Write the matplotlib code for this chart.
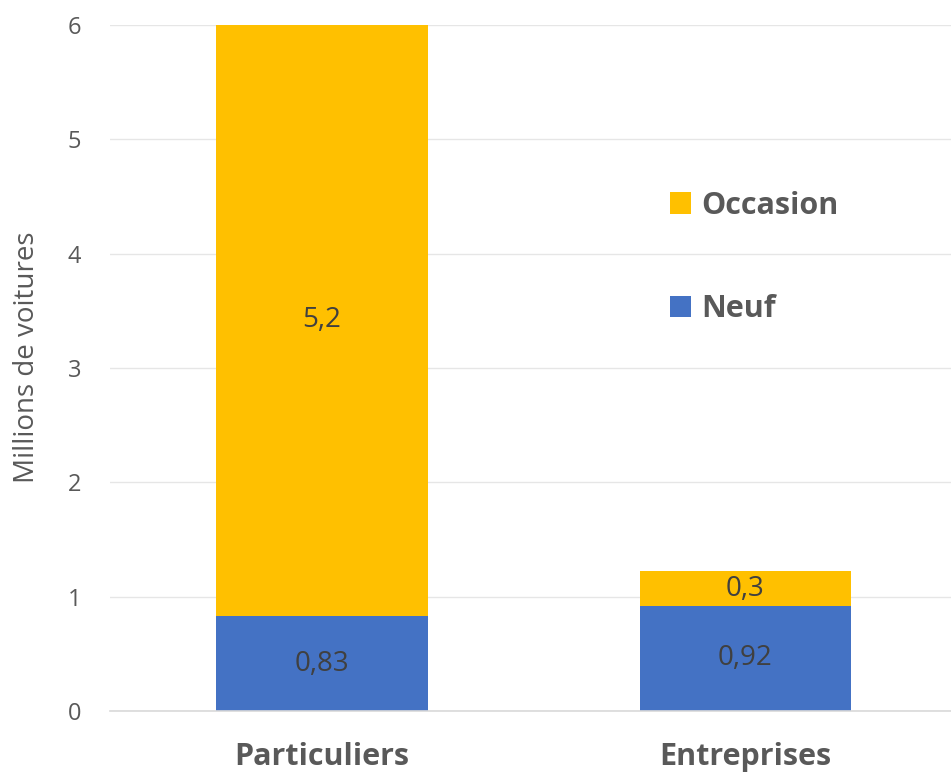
import matplotlib
matplotlib.use("Agg")
import matplotlib.pyplot as plt

categories = ["Particuliers", "Entreprises"]
neuf = [0.83, 0.92]
occasion = [5.2, 0.3]
neuf_labels = ["0,83", "0,92"]
occasion_labels = ["5,2", "0,3"]
yticks = [0, 1, 2, 3, 4, 5, 6]

plt.rcParams['font.family'] = ['Open Sans', 'DejaVu Sans']
grey = '#595959'

fig = plt.figure(figsize=(9.51, 7.77), dpi=100)
ax = fig.add_axes([0.1159, 0.085, 0.8906, 0.883])

x = list(range(len(categories)))
b1 = ax.bar(x, neuf, width=0.5, color='#4472C4', label='Neuf', zorder=3)
b2 = ax.bar(x, occasion, width=0.5, bottom=neuf, color='#FFC000',
            label='Occasion', zorder=3)

ax.bar_label(b1, labels=neuf_labels, label_type='center', fontsize=20, color='#404040')
ax.bar_label(b2, labels=occasion_labels, label_type='center', fontsize=20, color='#404040')

ax.set_xlim(-0.5, 1.5)
ax.set_ylim(0, 6)
ax.set_yticks(yticks)
ax.set_xticks(x)
ax.set_xticklabels(categories, fontsize=22, fontweight='bold', color=grey)
ax.tick_params(axis='y', labelsize=17, labelcolor=grey, length=0, pad=21)
ax.tick_params(axis='x', length=0, pad=22)
ax.grid(axis='y', color='#e6e6e6', linewidth=1, zorder=0)
for s in ['top', 'right', 'left']:
    ax.spines[s].set_visible(False)
ax.spines['bottom'].set_color('#d9d9d9')
ax.spines['bottom'].set_linewidth(1.2)
ax.spines['bottom'].set_zorder(4)

ax.set_ylabel("Millions de voitures", fontsize=20, color=grey)
ax.yaxis.set_label_coords(-0.082, 0.516)

handles = [b2, b1]
leg = ax.legend(handles, ['Occasion', 'Neuf'], loc='center left',
                bbox_to_anchor=(0.628, 0.661), frameon=False,
                prop={'size': 22, 'weight': 'bold'}, labelspacing=2.4,
                handlelength=0.7, handleheight=0.7, handletextpad=0.33)
for t in leg.get_texts():
    t.set_color(grey)

fig.savefig("out.png", dpi=100)
